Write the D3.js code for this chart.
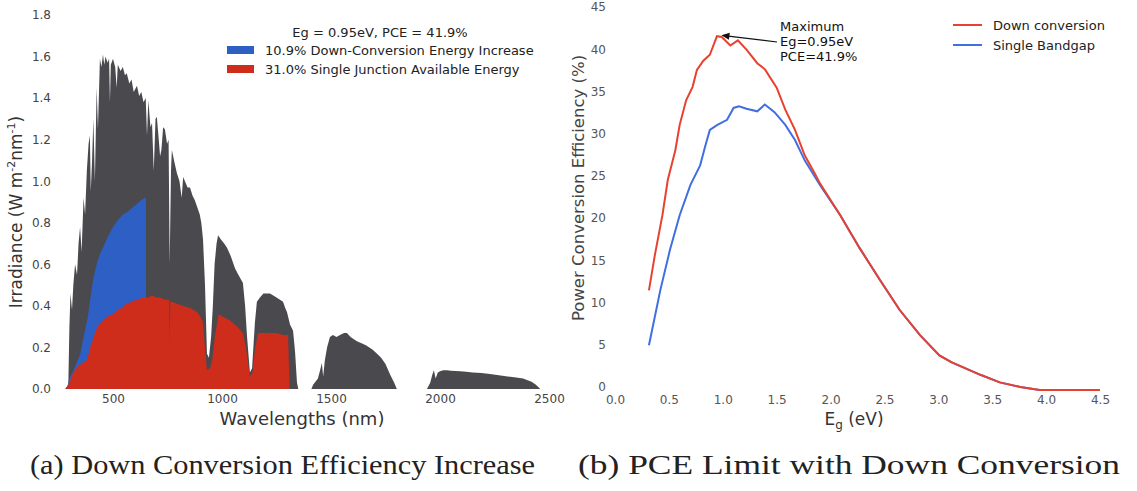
<!DOCTYPE html>
<html>
<head>
<meta charset="utf-8">
<script src="https://cdn.jsdelivr.net/npm/d3@7/dist/d3.min.js"></script>
<style>
  body { margin: 0; background: #fff; }
  svg { display: block; }
  .tick text { font-family: "DejaVu Sans", sans-serif; font-size: 12px; fill: #444; }
</style>
</head>
<body>
<div class="graph"></div>
<script>
var W = 1137, H = 491;

// (a) AM1.5 style spectrum: wavelength (nm) / irradiance
var specWl  = [280, 295, 300, 305, 312, 318, 326, 335, 342, 349, 356, 365, 372, 380, 388, 394, 398, 404, 410, 417, 425, 431, 440, 447, 454, 460, 466, 475, 482, 486, 490, 500, 510, 517, 522, 535, 545, 555, 563, 575, 585, 595, 610, 620, 630, 640, 650, 656, 662, 672, 679, 687, 695, 701, 710, 716, 722, 730, 738, 748, 755, 760, 766, 770, 780, 793, 805, 815, 822, 830, 842, 853, 865, 875, 885, 898, 905, 913, 922, 931, 940, 950, 958, 966, 975, 982, 995, 1010, 1023, 1040, 1050, 1060, 1075, 1096, 1106, 1115, 1128, 1138, 1145, 1151, 1160, 1174, 1190, 1205, 1220, 1235, 1250, 1266, 1280, 1290, 1298, 1312, 1326, 1335, 1344, 1350,
                1410, 1418, 1440, 1450, 1458, 1464, 1472, 1482, 1495, 1509, 1525, 1541, 1560, 1573, 1590, 1605, 1619, 1640, 1660, 1690, 1711, 1730, 1750, 1771, 1790, 1802,
                1940, 1955, 1965, 1972, 1980, 1990, 2000, 2015, 2032, 2050, 2070, 2092, 2120, 2150, 2190, 2229, 2270, 2310, 2350, 2381, 2420, 2440, 2460];
var specIrr = [0, 0.02, 0.30, 0.46, 0.38, 0.50, 0.60, 0.55, 0.70, 0.78, 0.66, 0.92, 0.84, 1.05, 1.18, 1.22, 0.95, 1.10, 1.30, 1.00, 1.45, 1.25, 1.59, 1.55, 1.61, 1.56, 1.60, 1.57, 1.59, 1.38, 1.56, 1.59, 1.55, 1.45, 1.56, 1.53, 1.55, 1.51, 1.52, 1.47, 1.49, 1.43, 1.46, 1.41, 1.43, 1.38, 1.40, 1.22, 1.39, 1.26, 1.28, 1.05, 1.30, 1.31, 1.20, 1.12, 1.15, 1.26, 1.25, 1.18, 1.20, 0.60, 1.05, 1.15, 1.10, 1.04, 1.00, 0.92, 1.02, 1.00, 0.97, 0.97, 0.93, 0.91, 0.88, 0.84, 0.80, 0.72, 0.50, 0.17, 0.15, 0.25, 0.40, 0.60, 0.70, 0.74, 0.72, 0.70, 0.68, 0.64, 0.61, 0.58, 0.55, 0.51, 0.40, 0.25, 0.08, 0.10, 0.22, 0.32, 0.42, 0.44, 0.46, 0.46, 0.46, 0.45, 0.44, 0.43, 0.42, 0.39, 0.37, 0.31, 0.28, 0.18, 0.03, 0,
                0, 0.02, 0.05, 0.09, 0.125, 0.06, 0.14, 0.20, 0.25, 0.26, 0.25, 0.26, 0.27, 0.27, 0.25, 0.24, 0.23, 0.22, 0.21, 0.19, 0.17, 0.15, 0.12, 0.07, 0.03, 0,
                0, 0.03, 0.07, 0.09, 0.05, 0.08, 0.085, 0.09, 0.09, 0.088, 0.087, 0.085, 0.083, 0.08, 0.077, 0.072, 0.066, 0.06, 0.055, 0.05, 0.035, 0.02, 0];

// blue: down-conversion increase (only below 2Eg wavelength)
var blueWl  = [288, 300, 315, 335, 350, 365, 385, 397, 408, 425, 440, 454, 475, 500, 520, 545, 563, 585, 610, 630, 647, 651, 652];
var blueIrr = [0, 0.05, 0.08, 0.13, 0.17, 0.25, 0.35, 0.44, 0.52, 0.60, 0.65, 0.68, 0.73, 0.78, 0.81, 0.84, 0.85, 0.87, 0.89, 0.91, 0.92, 0.92, 0];

// red: single junction available energy (Eg = 0.95 eV cut-off)
var redWl  = [285, 300, 317, 340, 365, 381, 395, 408, 420, 435, 454, 475, 500, 520, 540, 563, 585, 610, 638, 660, 680, 700, 716, 740, 758, 760, 763, 770, 793, 821, 853, 885, 900, 913, 922, 931, 945, 955, 968, 985, 1000, 1037, 1070, 1096, 1110, 1128, 1140, 1150, 1165, 1190, 1220, 1250, 1280, 1303, 1310];
var redIrr = [0, 0.03, 0.08, 0.11, 0.13, 0.14, 0.20, 0.24, 0.28, 0.31, 0.33, 0.35, 0.36, 0.38, 0.39, 0.41, 0.42, 0.43, 0.44, 0.44, 0.45, 0.44, 0.44, 0.43, 0.43, 0.22, 0.42, 0.42, 0.41, 0.40, 0.39, 0.37, 0.35, 0.32, 0.20, 0.09, 0.10, 0.14, 0.26, 0.36, 0.35, 0.33, 0.30, 0.27, 0.20, 0.06, 0.08, 0.18, 0.27, 0.27, 0.27, 0.27, 0.26, 0.26, 0];

var wlTicks  = [500, 1000, 1500, 2000, 2500];
var irrTicks = [0, 0.2, 0.4, 0.6, 0.8, 1.0, 1.2, 1.4, 1.6, 1.8];

// (b) PCE vs bandgap
var egDown  = [0.315, 0.37, 0.44, 0.49, 0.56, 0.60, 0.66, 0.72, 0.76, 0.82, 0.88, 0.946, 0.99, 1.07, 1.14, 1.22, 1.32, 1.39, 1.50, 1.58, 1.67, 1.76, 1.86, 1.90, 2.09, 2.27, 2.46, 2.64, 2.83, 3.01, 3.12, 3.39, 3.57, 3.76, 3.94, 4.5];
var pceDown = [11.8, 16.0, 20.7, 24.9, 28.4, 31.4, 34.3, 35.9, 37.9, 39.0, 39.7, 41.9, 41.8, 40.8, 41.4, 40.3, 38.7, 38.0, 35.8, 33.2, 30.8, 27.8, 25.5, 24.5, 20.7, 16.8, 13.0, 9.5, 6.5, 4.1, 3.3, 1.8, 0.9, 0.35, 0, 0];
var egSingle  = [0.315, 0.42, 0.51, 0.60, 0.70, 0.79, 0.84, 0.88, 0.95, 1.04, 1.10, 1.15, 1.22, 1.32, 1.39, 1.48, 1.58, 1.67, 1.76, 1.90, 2.09, 2.27, 2.46, 2.64, 2.83, 3.01, 3.12, 3.39, 3.57, 3.76, 3.94, 4.5];
var pceSingle = [5.3, 11.8, 16.6, 20.7, 24.3, 26.6, 29.0, 30.8, 31.4, 32.0, 33.4, 33.6, 33.3, 33.0, 33.8, 32.9, 31.4, 29.6, 27.2, 24.3, 20.7, 16.8, 13.0, 9.5, 6.5, 4.1, 3.3, 1.8, 0.9, 0.35, 0, 0];

var egTicks  = [0, 0.5, 1.0, 1.5, 2.0, 2.5, 3.0, 3.5, 4.0, 4.5];
var pceTicks = [0, 5, 10, 15, 20, 25, 30, 35, 40, 45];

var peak = {eg: 0.95, pce: 41.9};

var GREY = "#4a494e", BLUE = "#2d5fc4", RED = "#cf2d1c";
var LRED = "#e8412f", LBLUE = "#3f6fe0";
var SANS = "'DejaVu Sans', sans-serif";

function zip(a, b) {
  return a.map(function(v, i) { return [v, b[i]]; });
}

function main() {
  var svg = d3.select(".graph").append("svg")
      .attr("width", W)
      .attr("height", H);

  // ---------- left panel ----------
  var xL = d3.scaleLinear().domain([500, 2500]).range([113, 549]);
  var yL = d3.scaleLinear().domain([0, 1.8]).range([389, 15]);

  var area = d3.area()
      .x(function(d) { return xL(d[0]); })
      .y0(yL(0))
      .y1(function(d) { return yL(d[1]); });

  var left = svg.append("g");
  left.append("path").attr("d", area(zip(specWl, specIrr))).attr("fill", GREY);
  left.append("path").attr("d", area(zip(blueWl, blueIrr))).attr("fill", BLUE);
  left.append("path").attr("d", area(zip(redWl, redIrr))).attr("fill", RED);

  left.append("g")
      .attr("transform", "translate(0,389)")
      .call(d3.axisBottom(xL).tickValues(wlTicks).tickFormat(d3.format("d")).tickSize(0).tickPadding(5))
      .call(function(g) { g.select(".domain").remove(); });
  left.append("g")
      .attr("transform", "translate(66,0)")
      .call(d3.axisLeft(yL).tickValues(irrTicks).tickFormat(d3.format(".1f")).tickSize(0).tickPadding(15))
      .call(function(g) { g.select(".domain").remove(); });

  left.append("text")
      .attr("x", 302).attr("y", 425)
      .attr("text-anchor", "middle")
      .style("font-family", SANS).style("font-size", "18px").style("fill", "#333")
      .text("Wavelengths (nm)");

  var ylab = left.append("text")
      .attr("transform", "translate(22,212) rotate(-90)")
      .attr("text-anchor", "middle")
      .style("font-family", SANS).style("font-size", "17px").style("fill", "#333");
  ylab.append("tspan").text("Irradiance (W m");
  ylab.append("tspan").attr("dy", -7).style("font-size", "11px").text("-2");
  ylab.append("tspan").attr("dy", 7).text("nm");
  ylab.append("tspan").attr("dy", -7).style("font-size", "11px").text("-1");
  ylab.append("tspan").attr("dy", 7).text(")");

  // legend (a)
  var lg = left.append("g").style("font-family", SANS).style("font-size", "13px").style("fill", "#222");
  lg.append("text").attr("x", 380).attr("y", 37).attr("text-anchor", "middle")
      .text("Eg = 0.95eV, PCE = 41.9%");
  var legA = [
    {c: BLUE, t: "10.9% Down-Conversion Energy Increase"},
    {c: RED,  t: "31.0% Single Junction Available Energy"}
  ];
  legA.forEach(function(d, i) {
    lg.append("rect").attr("x", 227).attr("y", 46 + i * 19).attr("width", 27).attr("height", 8).attr("fill", d.c);
    lg.append("text").attr("x", 265).attr("y", 55 + i * 19).text(d.t);
  });

  // ---------- right panel ----------
  var xR = d3.scaleLinear().domain([0, 4.5]).range([615, 1100]);
  var yR = d3.scaleLinear().domain([0, 45]).range([390, 10]);

  var line = d3.line()
      .x(function(d) { return xR(d[0]); })
      .y(function(d) { return yR(d[1]); });

  var right = svg.append("g");
  right.append("path").attr("d", line(zip(egSingle, pceSingle)))
      .attr("fill", "none").attr("stroke", LBLUE).attr("stroke-width", 2);
  right.append("path").attr("d", line(zip(egDown, pceDown)))
      .attr("fill", "none").attr("stroke", LRED).attr("stroke-width", 2);

  right.append("g")
      .attr("transform", "translate(0,390)")
      .call(d3.axisBottom(xR).tickValues(egTicks).tickFormat(d3.format(".1f")).tickSize(0).tickPadding(5))
      .call(function(g) { g.select(".domain").remove(); g.selectAll("text").style("fill", "#555"); });
  right.append("g")
      .attr("transform", "translate(615,-3)")
      .call(d3.axisLeft(yR).tickValues(pceTicks).tickSize(0).tickPadding(9))
      .call(function(g) { g.select(".domain").remove(); g.selectAll("text").style("fill", "#555"); });

  var xlab = right.append("text")
      .attr("x", 854).attr("y", 425)
      .attr("text-anchor", "middle")
      .style("font-family", SANS).style("font-size", "17px").style("fill", "#333");
  xlab.append("tspan").text("E");
  xlab.append("tspan").attr("dy", 4).style("font-size", "12px").text("g");
  xlab.append("tspan").attr("dy", -4).text(" (eV)");

  right.append("text")
      .attr("transform", "translate(584,188) rotate(-90)")
      .attr("text-anchor", "middle")
      .style("font-family", SANS).style("font-size", "16.5px").style("fill", "#444")
      .text("Power Conversion Efficiency (%)");

  // annotation of the maximum
  var px = xR(peak.eg) + 4, py = yR(peak.pce) - 1;
  var ax = 777, ay = 42;
  var ang = Math.atan2(py - ay, px - ax);
  right.append("line")
      .attr("x1", ax).attr("y1", ay)
      .attr("x2", px - 7 * Math.cos(ang)).attr("y2", py - 7 * Math.sin(ang))
      .attr("stroke", "#111").attr("stroke-width", 1.2);
  right.append("path")
      .attr("d", "M0,0L-8,-3.5L-8,3.5Z")
      .attr("transform", "translate(" + px + "," + py + ") rotate(" + (ang * 180 / Math.PI) + ")")
      .attr("fill", "#111");
  var ann = right.append("g").style("font-family", SANS).style("font-size", "13px").style("fill", "#111");
  ["Maximum", "Eg=" + peak.eg + "eV", "PCE=" + peak.pce + "%"].forEach(function(t, i) {
    ann.append("text").attr("x", 780).attr("y", 31 + i * 15).text(t);
  });

  // legend (b)
  var legB = [
    {c: LRED,  t: "Down conversion"},
    {c: LBLUE, t: "Single Bandgap"}
  ];
  var lgb = right.append("g").style("font-family", SANS).style("font-size", "13px").style("fill", "#222");
  legB.forEach(function(d, i) {
    lgb.append("line").attr("x1", 953).attr("x2", 982).attr("y1", 25 + i * 20).attr("y2", 25 + i * 20)
        .attr("stroke", d.c).attr("stroke-width", 2);
    lgb.append("text").attr("x", 993).attr("y", 30 + i * 20).text(d.t);
  });

  // captions
  var caps = [
    {x: 30,  w: 505, t: "(a) Down Conversion Efficiency Increase"},
    {x: 578, w: 542, t: "(b) PCE Limit with Down Conversion"}
  ];
  caps.forEach(function(d) {
    svg.append("text")
        .attr("x", d.x).attr("y", 474)
        .attr("textLength", d.w).attr("lengthAdjust", "spacingAndGlyphs")
        .style("font-family", "'Liberation Serif', serif").style("font-size", "27px").style("fill", "#222")
        .text(d.t);
  });
}

main();
</script>
</body>
</html>
